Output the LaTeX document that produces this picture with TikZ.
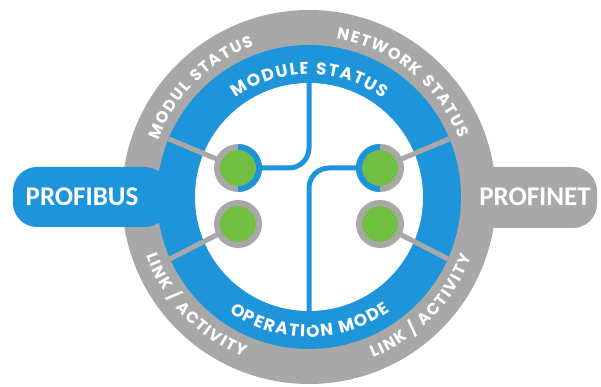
\documentclass[tikz,border=0pt]{standalone}
\usepackage{fontspec}
\setmainfont{Carlito}
\newfontfamily\ringfont{Poppins}
\usetikzlibrary{decorations.text}
\definecolor{netblue}{HTML}{1E95DA}
\definecolor{netgray}{HTML}{A8A8A8}
\definecolor{netgreen}{HTML}{72C043}

\begin{document}
\begin{tikzpicture}[x=1pt,y=1pt,
    led/.style={circle,fill=netgreen,draw=netgray,line width=6pt,minimum size=42pt,inner sep=0pt,outer sep=0pt},
    busname/.style={text=white,font=\bfseries\fontsize{27}{27}\selectfont},
    trace/.style={netblue,line width=5pt,rounded corners=20pt},
    link/.style={netgray,line width=5pt},
    ringtext/.style 2 args={decorate,decoration={text along path,text align=center,text color=white,
        text={|\ringfont\bfseries\fontsize{#1}{#1}\selectfont\kern1.5pt|#2}}}]
    \useasboundingbox (-309,-190) rectangle (292,197);

    \fill[netgray] (0,0) circle[radius=187];
    \fill[netgray,rounded corners=24pt] (150,-31) rectangle (288,30);
    \fill[netblue,rounded corners=24pt] (-296,-30) rectangle (-140,30);
    \fill[netblue] (0,0) circle[radius=152];
    \fill[white] (0,0) circle[radius=114];

    \node[busname] (Profibus) at (-227,0) {PROFIBUS};
    \node[busname] (Profinet) at (226,0) {PROFINET};

    \path[ringtext={17}{MODULE STATUS}] (165:123) arc[start angle=165,end angle=15,radius=123];
    \path[ringtext={17}{OPERATION MODE}] (195:140) arc[start angle=195,end angle=345,radius=140];
    \path[ringtext={16}{MODUL STATUS}] (195:161) arc[start angle=195,end angle=75,radius=161];
    \path[ringtext={16}{NETWORK STATUS}] (108:161) arc[start angle=108,end angle=-6,radius=161];
    \path[ringtext={16}{LINK / ACTIVITY}] (172:173) arc[start angle=172,end angle=275,radius=173];
    \path[ringtext={16}{LINK / ACTIVITY}] (265:173) arc[start angle=265,end angle=366,radius=173];

    \node[led] (Module Status) at (-71,29) {};
    \node[led] (Network Status) at (71,29) {};
    \node[led] (Link Left) at (-71,-27) {};
    \node[led] (Link Right) at (71,-27) {};

    \coordinate (Module Status Ring) at (157.5:152);
    \coordinate (Network Status Ring) at (22.5:152);
    \coordinate (Link Left Ring) at (204:152);
    \coordinate (Link Right Ring) at (-24:152);
    \coordinate (Top Trace) at (0,130);
    \coordinate (Bottom Trace) at (0,-130);

    \draw[link] (Module Status) -- (Module Status Ring);
    \draw[link] (Network Status) -- (Network Status Ring);
    \draw[link] (Link Left) -- (Link Left Ring);
    \draw[link] (Link Right) -- (Link Right Ring);

    \draw[trace] (Module Status) -| (Top Trace);
    \draw[trace] (Network Status) -| (Bottom Trace);

    \draw[netblue,line width=6pt] (Module Status.north) arc[start angle=90,end angle=-90,radius=21];
    \draw[netblue,line width=6pt] (Network Status.north) arc[start angle=90,end angle=270,radius=21];
\end{tikzpicture}
\end{document}
